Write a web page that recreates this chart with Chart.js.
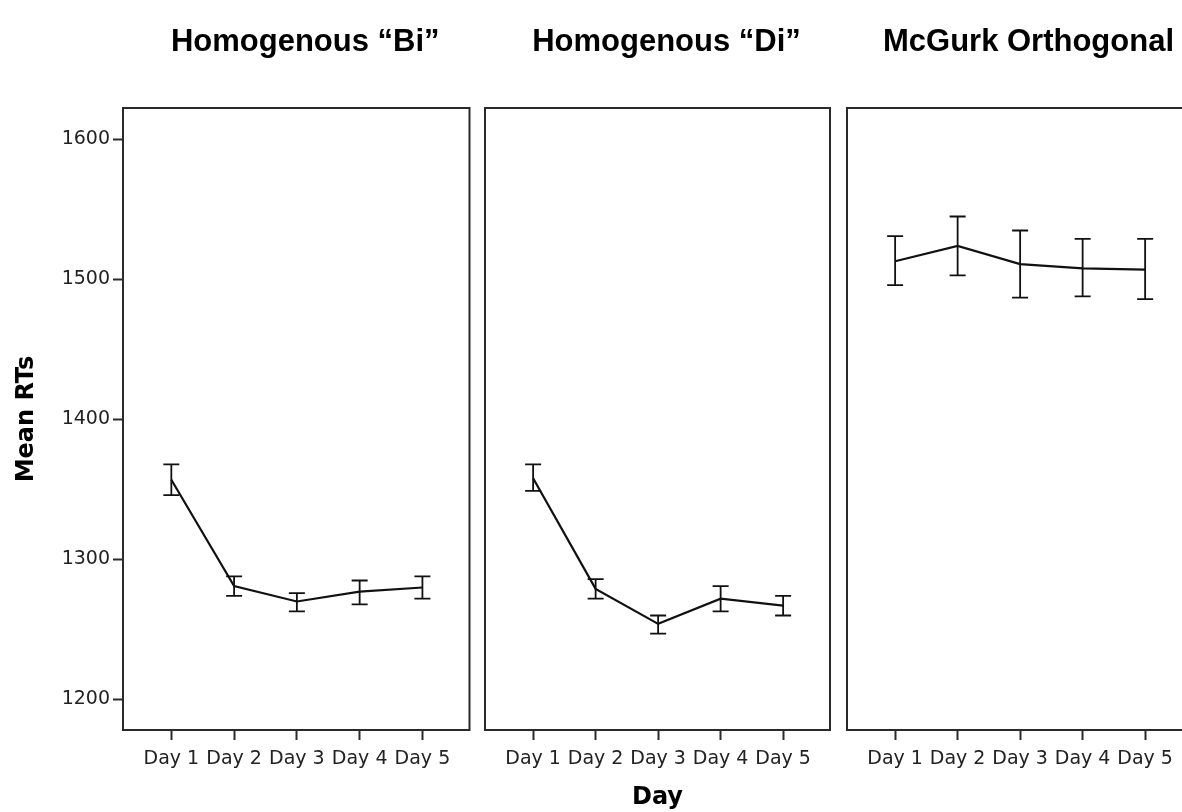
<!DOCTYPE html>
<html><head><meta charset="utf-8">
<script src="https://cdn.jsdelivr.net/npm/chart.js@4.4.0/dist/chart.umd.min.js"></script>
<style>
html,body{margin:0;padding:0;background:#fff;overflow:hidden;width:1182px;height:812px;}
#wrap{position:relative;width:1182px;height:812px;overflow:hidden;}
canvas{position:absolute;top:0;}
</style></head><body>
<div id="wrap">
<canvas id="c1" width="478" height="812" style="left:0px"></canvas>
<canvas id="c2" width="362" height="812" style="left:478px"></canvas>
<canvas id="c3" width="352" height="812" style="left:840px"></canvas>
</div>
<script>
// ---- data ----
const days = ['Day 1', 'Day 2', 'Day 3', 'Day 4', 'Day 5'];
const panelTitles = ['Homogenous “Bi”', 'Homogenous “Di”', 'McGurk Orthogonal'];
const yTicks = [1200, 1300, 1400, 1500, 1600];
const yTitle = 'Mean RTs';
const xTitle = 'Day';

const biMean = [1357, 1281, 1270, 1277, 1280];
const biLow  = [1346, 1274, 1263, 1268, 1272];
const biHigh = [1368, 1288, 1276, 1285, 1288];

const diMean = [1358, 1279, 1254, 1272, 1267];
const diLow  = [1349, 1272, 1247, 1263, 1260];
const diHigh = [1368, 1286, 1260, 1281, 1274];

const mcMean = [1513, 1524, 1511, 1508, 1507];
const mcLow  = [1496, 1503, 1487, 1488, 1486];
const mcHigh = [1531, 1545, 1535, 1529, 1529];

// ---- chart ----
Chart.defaults.font.family = "'DejaVu Sans', sans-serif";
Chart.defaults.color = '#222';

const framePlugin = {
  id: 'frame',
  afterDraw(chart) {
    const a = chart.chartArea, ctx = chart.ctx;
    ctx.save();
    ctx.strokeStyle = '#2a2a2a';
    ctx.lineWidth = 2;
    ctx.strokeRect(a.left, a.top, a.right - a.left, a.bottom - a.top);
    ctx.restore();
  }
};

function makePanel(id, title, mean, low, high, cfg) {
  const titlePlugin = {
    id: 'panelTitle',
    afterDraw(chart) {
      const a = chart.chartArea, ctx = chart.ctx;
      ctx.save();
      ctx.font = "bold 31px 'Liberation Sans', Arial, sans-serif";
      ctx.fillStyle = '#000';
      ctx.textAlign = 'center';
      ctx.textBaseline = 'alphabetic';
      ctx.fillText(title, (a.left + a.right) / 2 + 9, 51);
      ctx.restore();
    }
  };
  const errPlugin = {
    id: 'errBars',
    afterDatasetsDraw(chart) {
      const xs = chart.scales.x, ys = chart.scales.y, ctx = chart.ctx;
      ctx.save();
      ctx.strokeStyle = '#111';
      ctx.lineWidth = 1.8;
      for (let i = 0; i < mean.length; i++) {
        const x = xs.getPixelForValue(i);
        const yl = ys.getPixelForValue(low[i]);
        const yh = ys.getPixelForValue(high[i]);
        ctx.beginPath();
        ctx.moveTo(x, yl); ctx.lineTo(x, yh);
        ctx.moveTo(x - 8, yl); ctx.lineTo(x + 8, yl);
        ctx.moveTo(x - 8, yh); ctx.lineTo(x + 8, yh);
        ctx.stroke();
      }
      ctx.restore();
    }
  };
  return new Chart(document.getElementById(id), {
    type: 'line',
    data: {
      datasets: [{
        data: mean.map((v, i) => ({ x: i, y: v })),
        borderColor: '#111',
        borderWidth: 2.2,
        pointRadius: 0,
        tension: 0,
        fill: false
      }]
    },
    options: {
      responsive: false,
      animation: false,
      devicePixelRatio: 1,
      layout: { padding: { left: cfg.padLeft, right: cfg.padRight, top: 108, bottom: 0 } },
      plugins: { legend: { display: false }, tooltip: { enabled: false }, title: { display: false } },
      scales: {
        x: {
          type: 'linear',
          min: -0.77,
          max: 4.75,
          afterBuildTicks(s) { s.ticks = days.map((d, i) => ({ value: i })); },
          afterFit(s) { s.height = 82; },
          ticks: {
            callback: (v) => days[v],
            font: { size: 19 },
            color: '#222',
            padding: 8,
            maxRotation: 0,
            autoSkip: false
          },
          grid: { display: true, drawOnChartArea: false, drawTicks: true, tickLength: 10, tickWidth: 2, tickColor: '#2a2a2a' },
          border: { display: false },
          title: {
            display: cfg.showXTitle,
            text: xTitle,
            font: { size: 24, weight: 'bold' },
            color: '#000',
            padding: { top: 0, bottom: 0 }
          }
        },
        y: {
          type: 'linear',
          display: cfg.showY,
          min: 1178.2,
          max: 1622.5,
          afterBuildTicks(s) { s.ticks = yTicks.map(v => ({ value: v })); },
          afterFit(s) { s.width = cfg.showY ? 123 : 0; },
          ticks: { font: { size: 19 }, color: '#222', padding: 3, callback: (v) => String(v) },
          grid: { display: true, drawOnChartArea: false, drawTicks: true, tickLength: 10, tickWidth: 2, tickColor: '#2a2a2a' },
          border: { display: false },
          title: {
            display: cfg.showY,
            text: yTitle,
            font: { size: 24, weight: 'bold' },
            color: '#000',
            padding: { top: 12, bottom: 0 }
          }
        }
      }
    },
    plugins: [framePlugin, titlePlugin, errPlugin]
  });
}

makePanel('c1', panelTitles[0], biMean, biLow, biHigh, { padLeft: 0, padRight: 8.5, showY: true, showXTitle: false });
makePanel('c2', panelTitles[1], diMean, diLow, diHigh, { padLeft: 7, padRight: 10, showY: false, showXTitle: true });
makePanel('c3', panelTitles[2], mcMean, mcLow, mcHigh, { padLeft: 7, padRight: 0, showY: false, showXTitle: false });
</script>
</body></html>
